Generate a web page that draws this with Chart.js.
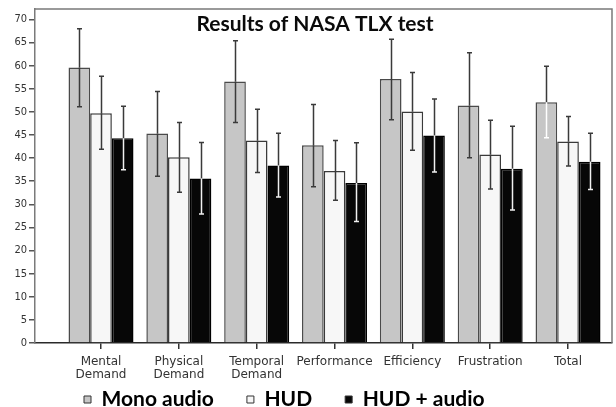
<!DOCTYPE html>
<html>
<head>
<meta charset="utf-8">
<script src="https://cdn.jsdelivr.net/npm/chart.js@4.4.1/dist/chart.umd.min.js"></script>
<style>
html,body{margin:0;padding:0;background:#fff;}
#wrap{width:616px;height:407px;position:relative;}
</style>
</head>
<body>
<div id="wrap"><canvas id="c" width="616" height="407"></canvas></div>
<script>
const title = 'Results of NASA TLX test';
const categories = [['Mental','Demand'], ['Physical','Demand'], ['Temporal','Demand'], 'Performance', 'Efficiency', 'Frustration', 'Total'];
const seriesNames = ['Mono audio', 'HUD', 'HUD + audio'];
const yTicks = [0,5,10,15,20,25,30,35,40,45,50,55,60,65,70];

const mono      = [59.6, 45.3, 56.6, 42.8, 57.1, 51.4, 52.1];
const monoHi    = [68.0, 54.4, 65.4, 51.6, 65.7, 62.8, 59.9];
const monoLo    = [51.1, 36.1, 47.7, 33.8, 48.3, 40.1, 44.4];
const hud       = [49.7, 40.2, 43.8, 37.2, 50.1, 40.8, 43.6];
const hudHi     = [57.7, 47.7, 50.6, 43.8, 58.5, 48.2, 49.0];
const hudLo     = [41.9, 32.6, 36.9, 30.9, 41.7, 33.3, 38.3];
const hudAudio   = [44.3, 35.6, 38.4, 34.6, 44.9, 37.7, 39.2];
const hudAudioHi = [51.2, 43.4, 45.4, 43.3, 52.8, 46.9, 45.4];
const hudAudioLo = [37.5, 27.9, 31.6, 26.3, 37.0, 28.8, 33.2];

const toPoints = arr => arr.map((v, i) => ({x: i, y: v}));

const errData = [
  {hi: monoHi, lo: monoLo, inner: ['#3a3a3a','#3a3a3a','#3a3a3a','#3a3a3a','#3a3a3a','#3a3a3a','#ffffff']},
  {hi: hudHi, lo: hudLo, inner: ['#3a3a3a','#3a3a3a','#3a3a3a','#3a3a3a','#3a3a3a','#3a3a3a','#3a3a3a']},
  {hi: hudAudioHi, lo: hudAudioLo, inner: ['#f0f0f0','#f0f0f0','#f0f0f0','#f0f0f0','#f0f0f0','#f0f0f0','#f0f0f0']}
];

const errorBars = {
  id: 'errorBars',
  afterDatasetsDraw(chart) {
    const ctx = chart.ctx;
    const ys = chart.scales.y;
    ctx.save();
    ctx.lineWidth = 1.5;
    errData.forEach((e, d) => {
      const meta = chart.getDatasetMeta(d);
      meta.data.forEach((bar, i) => {
        const x = Math.round(bar.x) + 0.5;
        const yHi = ys.getPixelForValue(e.hi[i]);
        const yLo = ys.getPixelForValue(e.lo[i]);
        const yTop = bar.y;
        const cap = 2.5;
        ctx.strokeStyle = '#3a3a3a';
        ctx.beginPath();
        ctx.moveTo(x, yHi); ctx.lineTo(x, yTop);
        ctx.moveTo(x - cap, yHi); ctx.lineTo(x + cap, yHi);
        ctx.stroke();
        ctx.strokeStyle = e.inner[i];
        ctx.beginPath();
        ctx.moveTo(x, yTop); ctx.lineTo(x, yLo);
        ctx.moveTo(x - cap, yLo); ctx.lineTo(x + cap, yLo);
        ctx.stroke();
      });
    });
    ctx.restore();
  }
};

const frameAndTitle = {
  id: 'frameAndTitle',
  afterLayout(chart) {
    const lg = chart.legend;
    const pad = lg.options.labels.padding;
    const dx = 84 - pad - lg.left;
    lg.left += dx; lg.right += dx;
    lg.top = 356; lg.bottom = 407;
    lg.height = lg.bottom - lg.top;
  },
  beforeDatasetsDraw(chart) {
    const {ctx, chartArea: a} = chart;
    ctx.save();
    ctx.strokeStyle = '#7a7a7a';
    ctx.lineWidth = 1.5;
    ctx.beginPath();
    ctx.moveTo(a.left, a.top + 0.5);
    ctx.lineTo(a.right, a.top + 0.5);
    ctx.lineTo(a.right, a.bottom);
    ctx.stroke();
    ctx.restore();
  },
  afterDatasetsDraw(chart) {
    const {ctx} = chart;
    ctx.save();
    ctx.font = 'bold 21px Lato';
    ctx.fillStyle = '#0a0a0a';
    ctx.textAlign = 'center';
    ctx.textBaseline = 'middle';
    ctx.fillText(title, 315, 24);
    ctx.restore();
  }
};

new Chart(document.getElementById('c'), {
  type: 'bar',
  data: {
    datasets: [
      {label: seriesNames[0], data: toPoints(mono), backgroundColor: '#c6c6c6', borderColor: '#4a4a4a', borderWidth: 1.5},
      {label: seriesNames[1], data: toPoints(hud), backgroundColor: '#f7f7f7', borderColor: '#3a3a3a', borderWidth: 1.5},
      {label: seriesNames[2], data: toPoints(hudAudio), backgroundColor: '#070707', borderColor: '#000000', borderWidth: 1.5}
    ]
  },
  options: {
    responsive: false,
    animation: false,
    devicePixelRatio: 1,
    layout: {padding: {left: 0, top: 8, right: 4, bottom: 0}},
    datasets: {bar: {categoryPercentage: 0.835, barPercentage: 1.0, borderSkipped: 'bottom'}},
    scales: {
      x: {
        type: 'linear',
        min: -0.848,
        max: 6.565,
        offset: false,
        afterBuildTicks: s => { s.ticks = categories.map((c, i) => ({value: i})); },
        afterFit: s => { s.height = 38; },
        grid: {display: true, offset: false, drawOnChartArea: false, drawTicks: true, tickLength: 6, color: '#333', lineWidth: 1.5},
        border: {display: true, color: '#2a2a2a', width: 1.5},
        ticks: {
          autoSkip: false, maxRotation: 0, padding: 6,
          color: '#333',
          font: {family: 'DejaVu Sans', size: 12, lineHeight: 1.1},
          callback: v => categories[v]
        }
      },
      y: {
        min: 0,
        max: 72.35,
        afterBuildTicks: s => { s.ticks = yTicks.map(v => ({value: v})); },
        afterFit: s => { s.width = 35; },
        grid: {display: true, offset: false, drawOnChartArea: false, drawTicks: true, tickLength: 6, color: '#555', lineWidth: 1.5},
        border: {display: true, color: '#7a7a7a', width: 1.5},
        ticks: {
          padding: 2, color: '#333',
          font: {family: 'DejaVu Sans Condensed', size: 11}
        }
      }
    },
    plugins: {
      title: {display: false},
      tooltip: {enabled: false},
      legend: {
        display: true,
        position: 'bottom',
        align: 'start',
        maxHeight: 26,
        labels: {
          boxWidth: 7, boxHeight: 7,
          padding: 33,
          color: '#0a0a0a',
          font: {family: 'Lato', size: 21, weight: 'bold'},
          generateLabels: chart => chart.data.datasets.map((ds, i) => ({
            text: ds.label,
            fillStyle: ds.backgroundColor,
            strokeStyle: '#333',
            lineWidth: 1,
            datasetIndex: i,
            hidden: false
          }))
        }
      }
    }
  },
  plugins: [errorBars, frameAndTitle]
});
</script>
</body>
</html>
